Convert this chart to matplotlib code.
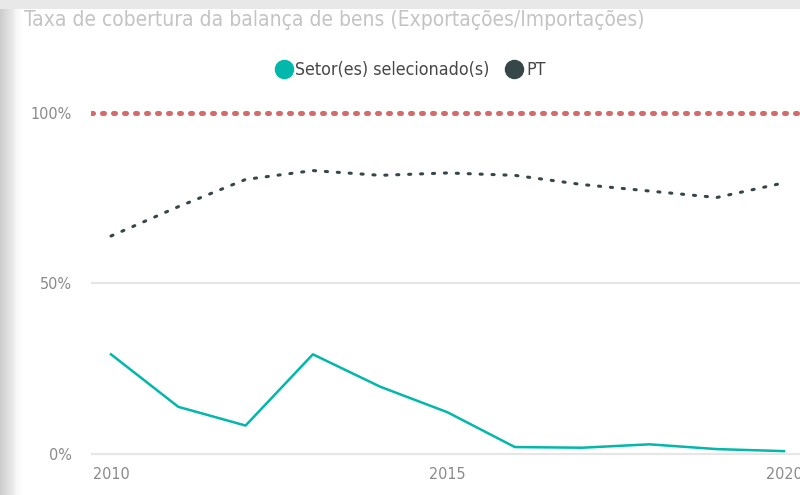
import numpy as np
import matplotlib
matplotlib.use("Agg")
import matplotlib.pyplot as plt
from matplotlib.lines import Line2D

# values (percent)
years = [2010, 2011, 2012, 2013, 2014, 2015, 2016, 2017, 2018, 2019, 2020]
setor = [29.1, 13.7, 8.2, 29.1, 19.6, 12.1, 1.9, 1.7, 2.7, 1.3, 0.7]
pt = [63.8, 72.4, 80.4, 83.0, 81.6, 82.3, 81.6, 78.9, 77.0, 75.1, 79.4]
reference = 100
y_ticks = [0, 50, 100]
x_ticks = [2010, 2015, 2020]

title = "Taxa de cobertura da balança de bens (Exportações/Importações)"
labels = ["Setor(es) selecionado(s)", "PT"]

teal = "#01B8AA"
dark = "#374649"
red = "#D46A6A"

W, H = 800, 495
fig = plt.figure(figsize=(W / 100, H / 100), dpi=100)

# screenshot frame: grey shadow at top and left
bg = fig.add_axes([0, 0, 1, 1], zorder=-10)
img = np.ones((H, W))
img[:9, :] = 0.91
grad = np.linspace(0.80, 0.93, 15)
img[9:, :15] = grad[None, :]
img[9:, 15:24] = np.linspace(0.96, 1.0, 9)[None, :]
bg.imshow(img, cmap="gray", vmin=0, vmax=1, aspect="auto", interpolation="bilinear")
bg.axis("off")

fig.text(24 / W, 1 - 20 / H, title, fontsize=15.0, color="#c4c4c4",
         va="center", ha="left", family="DejaVu Sans", stretch="condensed")

ax = fig.add_axes([91 / W, 35 / H, 709 / W, 360 / H])
ax.set_xlim(2009.703, 2020.238)
ax.set_ylim(-1.9, 103.7)

for v in y_ticks[:2]:
    ax.axhline(v, color="#e6e6e6", lw=1.6, zorder=0)
ax.axhline(reference, color=red, lw=3.6, linestyle=(0, (0.4, 1.8)),
           dash_capstyle="round", zorder=2)

ax.plot(years, setor, color=teal, lw=1.8, zorder=3)
ax.plot(years, pt, color=dark, lw=2.2, linestyle=(0, (0.7, 3.2)),
        dash_capstyle="round", zorder=3)

ax.set_yticks(y_ticks)
ax.set_yticklabels([f"{v}%" for v in y_ticks])
ax.set_xticks(x_ticks)
ax.set_xticklabels([str(v) for v in x_ticks])
ax.tick_params(axis="y", length=0, pad=14, labelsize=11.5, labelcolor="#8a8a8a")
ax.tick_params(axis="x", length=0, pad=5, labelsize=11.5, labelcolor="#8a8a8a")
for lab in ax.get_xticklabels() + ax.get_yticklabels():
    lab.set_fontstretch("condensed")
for s in ax.spines.values():
    s.set_visible(False)
ax.set_facecolor("none")

handles = [Line2D([], [], marker="o", linestyle="none", markersize=13,
                  markerfacecolor=c, markeredgecolor=c) for c in (teal, dark)]
fig.legend(handles, labels, loc="center", bbox_to_anchor=(410 / W, 1 - 70 / H),
           ncol=2, frameon=False, handletextpad=0.15, columnspacing=0.9,
           handlelength=1.0, prop=dict(size=12.8, stretch="condensed"),
           labelcolor="#474747")

fig.savefig("out.png", dpi=100)
